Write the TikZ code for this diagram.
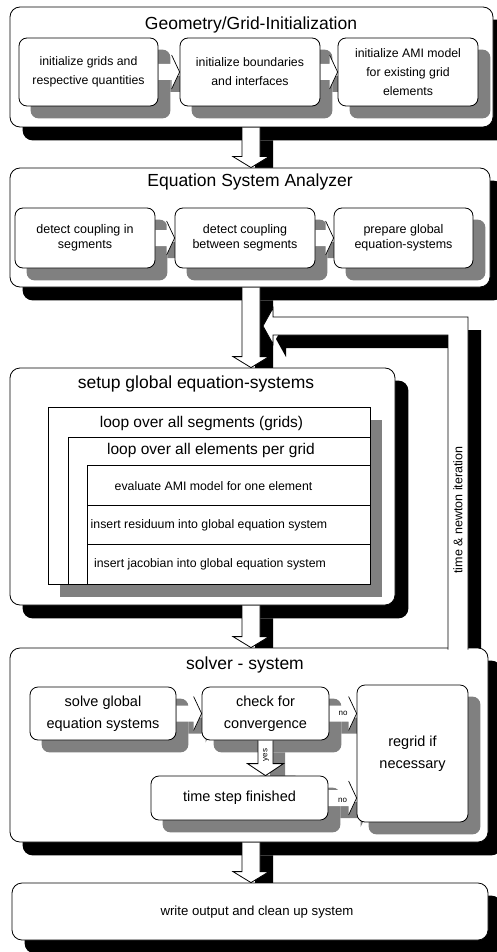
\documentclass[tikz,border=0pt]{standalone}
\usepackage{fontspec}
\setmainfont{Liberation Sans}
\usetikzlibrary{calc}
\pgfdeclarelayer{Lone}\pgfdeclarelayer{Ltwo}\pgfdeclarelayer{Lthree}
\pgfdeclarelayer{Lfour}\pgfdeclarelayer{Lfive}\pgfdeclarelayer{Lseven}
\pgfsetlayers{Lone,Ltwo,Lthree,Lfour,Lfive,main,Lseven}
\tikzset{
 obox/.style={draw, fill=white, rounded corners=10pt, line width=0.8pt, inner sep=0pt},
 ibox/.style={draw, fill=white, rounded corners=8pt, line width=0.8pt, inner sep=0pt, align=center},
 sqbox/.style={draw, fill=white, line width=0.8pt, inner sep=0pt},
 ttl/.style={font=\fontsize{17.5}{20}\selectfont, inner sep=0pt},
 txa/.style={font=\fontsize{12.3}{19}\selectfont},
 txb/.style={font=\fontsize{12.5}{15.5}\selectfont},
 txw/.style={font=\fontsize{13.2}{15.5}\selectfont, inner sep=0pt},
 txr/.style={font=\fontsize{12.3}{14}\selectfont, inner sep=0pt},
 txl/.style={font=\fontsize{15.5}{18}\selectfont, inner sep=0pt},
 txs/.style={font=\fontsize{14.5}{22}\selectfont},
 tiny/.style={font=\fontsize{8}{9}\selectfont, inner sep=0pt},
 bshadow/.style={fill=black},
 gshadow/.style={fill=black!50},
 arrw/.style={fill=white, draw, line width=0.8pt, line join=miter},
 sarrw/.style={fill=white},
 hline/.style={draw, line width=0.7pt, line join=miter},
}
% vertical block arrow: src, dst, x-coordinate, offset, style, shaft half, head half, head length
\newcommand\vblk[8]{\path[#5] ($(#1.south -| #3)+(-#6,0)+#4$) -- ($(#2.north -| #3)+(-#6,-#8)+#4$) -- ($(#2.north -| #3)+(-#7,-#8)+#4$) -- ($(#2.north -| #3)+#4$) -- ($(#2.north -| #3)+(#7,-#8)+#4$) -- ($(#2.north -| #3)+(#6,-#8)+#4$) -- ($(#1.south -| #3)+(#6,0)+#4$);}
% horizontal small block arrow: src, dst, offset, style
\newcommand\hblk[4]{\path[#4] ($(#1.east)+(0,-8)+#3$) -- ($(#2.west |- #1.east)+(-8,-8)+#3$) -- ($(#2.west |- #1.east)+(-8,-17)+#3$) -- ($(#2.west |- #1.east)+#3$) -- ($(#2.west |- #1.east)+(-8,17)+#3$) -- ($(#2.west |- #1.east)+(-8,8)+#3$) -- ($(#1.east)+(0,8)+#3$) -- cycle;}
\newcommand\hhead[2]{\path[hline] ($(#2.west |- #1.east)+(-8,-17)$) -- (#2.west |- #1.east) -- ($(#2.west |- #1.east)+(-8,17)$);}
% feedback arrow: offset, style
\newcommand\fbarrow[2]{\path[#2] ($(solver.north -| fbx)+(-10,2)+#1$) -- ($(fbtip -| fbx)+(-10,9)+#1$) -- ($(fbtip)+(10,9)+#1$) -- ($(fbtip)+(10,18)+#1$) -- ($(fbtip)+#1$) -- ($(fbtip)+(10,-18)+#1$) -- ($(fbtip)+(10,-9)+#1$) -- ($(fbtip -| fbx)+(10,-9)+#1$) -- ($(solver.north -| fbx)+(10,2)+#1$);}

\begin{document}
\begin{tikzpicture}[x=1pt,y=-1pt]
\useasboundingbox (0,0) rectangle (497,952);
\coordinate (ax) at (251,0);
\coordinate (yx) at (265.5,0);
\coordinate (fbx) at (458,0);
\coordinate (fbtip) at (263,326);

% ---------- outer boxes ----------
\begin{pgfonlayer}{Lthree}
\node[obox, minimum width=483pt, minimum height=120pt] (geo) at (251.5,67) {};
\node[obox, minimum width=480pt, minimum height=119pt] (eqa) at (250,227.5) {};
\node[obox, minimum width=385pt, minimum height=237pt] (setup) at (202.5,486.5) {};
\node[obox, minimum width=478pt, minimum height=194pt] (solver) at (249,745) {};
\node[obox, minimum width=476pt, minimum height=57pt] (wout) at (250,911.5) {};
\end{pgfonlayer}

% ---------- titles ----------
\node[ttl] (t1) at (251,25) {Geometry/Grid-Initialization};
\node[ttl] (t2) at (250,182) {Equation System Analyzer};
\node[ttl] (t3) at (196,384) {setup global equation-systems};
\node[ttl] (t4) at (245,665) {solver - system};
\node[txw] (t5) at (257,912) {write output and clean up system};

% ---------- inner boxes ----------
\node[ibox, txa, minimum width=139pt, minimum height=68pt] (ga) at (88.5,72) {initialize grids and\\respective quantities};
\node[ibox, txa, minimum width=140pt, minimum height=68pt] (gb) at (250,72) {initialize boundaries\\and interfaces};
\node[ibox, txa, minimum width=140pt, minimum height=68pt] (gc) at (408,72) {initialize AMI model\\for existing grid\\elements};

\node[ibox, txb, minimum width=140pt, minimum height=60pt] (ea) at (85,238) {detect coupling in\\segments};
\node[ibox, txb, minimum width=140pt, minimum height=60pt] (eb) at (245,238) {detect coupling\\between segments};
\node[ibox, txb, minimum width=139pt, minimum height=60pt] (ec) at (403.5,238) {prepare global\\equation-systems};

\node[sqbox, minimum width=322pt, minimum height=177pt] (lp1) at (209,495.5) {};
\node[sqbox, minimum width=302pt, minimum height=147pt] (lp2) at (219,510.5) {};
\node[sqbox, minimum width=283pt, minimum height=40pt] (r1) at (228.5,485) {};
\node[sqbox, minimum width=283pt, minimum height=39pt] (r2) at (228.5,524.5) {};
\node[sqbox, minimum width=283pt, minimum height=40pt] (r3) at (228.5,564) {};
\node[txl] (lt1) at (201.5,423) {loop over all segments (grids)};
\node[txl] (lt2) at (211,450) {loop over all elements per grid};
\node[txr] (rt1) at (213.5,486) {evaluate AMI model for one element};
\node[txr] (rt2) at (209,525) {insert residuum into global equation system};
\node[txr] (rt3) at (210,564) {insert jacobian into global equation system};

\node[ibox, txs, minimum width=146pt, minimum height=53pt] (sa) at (103,713.5) {solve global\\equation systems};
\node[ibox, txs, minimum width=127pt, minimum height=53pt] (sb) at (265.5,713.5) {check for\\convergence};
\node[ibox, txs, minimum width=111pt, minimum height=137pt] (rg) at (412.5,753.5) {regrid if\\necessary};
\node[ibox, txs, minimum width=177pt, minimum height=44pt] (ts) at (239.5,798) {time step finished};

% ---------- black shadows ----------
\begin{pgfonlayer}{Lone}
\foreach \n in {geo,eqa,setup,solver,wout}
  \fill[bshadow, rounded corners=10pt] ($(\n.south west)+(13,13)$) rectangle ($(\n.north east)+(13,13)$);
\vblk{geo}{eqa}{ax}{(13,13)}{bshadow}{9}{18}{11}
\vblk{eqa}{setup}{ax}{(13,13)}{bshadow}{9}{18}{11}
\vblk{setup}{solver}{ax}{(13,13)}{bshadow}{9}{18}{11}
\vblk{solver}{wout}{ax}{(13,13)}{bshadow}{9}{18}{11}
\fbarrow{(13,13)}{bshadow}
\end{pgfonlayer}

% ---------- big arrows ----------
\begin{pgfonlayer}{Ltwo}
\vblk{geo}{eqa}{ax}{(0,0)}{arrw}{9}{18}{11}
\vblk{eqa}{setup}{ax}{(0,0)}{arrw}{9}{18}{11}
\vblk{setup}{solver}{ax}{(0,0)}{arrw}{9}{18}{11}
\vblk{solver}{wout}{ax}{(0,0)}{arrw}{9}{18}{11}
\end{pgfonlayer}

% ---------- gray shadows ----------
\begin{pgfonlayer}{Lfour}
\foreach \n in {ga,gb,gc,ea,eb,ec,sa,sb,rg,ts}
  \fill[gshadow, rounded corners=8pt] ($(\n.south west)+(12,12)$) rectangle ($(\n.north east)+(12,12)$);
\fill[gshadow] ($(lp1.south west)+(12,13)$) rectangle ($(lp1.north east)+(12,13)$);
\hblk{ga}{gb}{(12,12)}{gshadow}
\hblk{gb}{gc}{(12,12)}{gshadow}
\hblk{ea}{eb}{(12,12)}{gshadow}
\hblk{eb}{ec}{(12,12)}{gshadow}
\hblk{sa}{sb}{(12,12)}{gshadow}
\hblk{sb}{rg}{(12,12)}{gshadow}
\hblk{ts}{rg}{(12,12)}{gshadow}
\vblk{sb}{ts}{yx}{(12,12)}{gshadow}{7.5}{18}{12}
\end{pgfonlayer}

% ---------- small arrows ----------
\begin{pgfonlayer}{Lfive}
\hblk{ga}{gb}{(0,0)}{sarrw}\hhead{ga}{gb}
\hblk{gb}{gc}{(0,0)}{sarrw}\hhead{gb}{gc}
\hblk{ea}{eb}{(0,0)}{sarrw}\hhead{ea}{eb}
\hblk{eb}{ec}{(0,0)}{sarrw}\hhead{eb}{ec}
\hblk{sa}{sb}{(0,0)}{sarrw}\hhead{sa}{sb}
\hblk{sb}{rg}{(0,0)}{sarrw}\hhead{sb}{rg}
\hblk{ts}{rg}{(0,0)}{sarrw}\hhead{ts}{rg}
\vblk{sb}{ts}{yx}{(0,0)}{arrw}{7.5}{18}{12}
\end{pgfonlayer}

\node[tiny] (no1) at ($(sb.east)!0.5!(rg.west |- sb.east)$) {no};
\node[tiny] (no2) at ($(ts.east)!0.5!(rg.west |- ts.east)+(0,2)$) {no};
\node[tiny, rotate=90] (yes) at (266,755) {yes};

% ---------- feedback arrow ----------
\begin{pgfonlayer}{Lseven}
\fbarrow{(0,0)}{arrw}
\node[font=\fontsize{12.5}{14}\selectfont, rotate=90, inner sep=0pt] (fbl) at (458,510) {time \& newton iteration};
\end{pgfonlayer}
\end{tikzpicture}
\end{document}
